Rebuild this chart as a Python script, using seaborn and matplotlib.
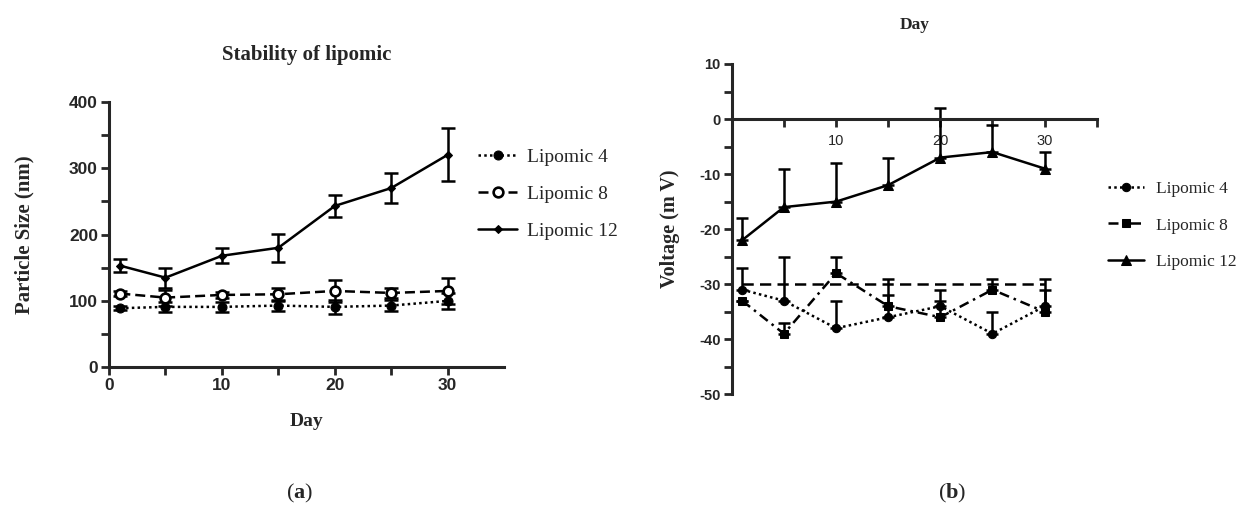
import numpy as np
import pandas as pd
import seaborn as sns
import matplotlib.pyplot as plt
from matplotlib.ticker import MultipleLocator

# data
days = [1, 5, 10, 15, 20, 25, 30]

# (a) particle size, nm
size_l4 = [89, 91, 91, 93, 91, 93, 100]
size_l4_err = [3, 8, 8, 8, 10, 8, 12]
size_l8 = [111, 105, 109, 110, 115, 112, 115]
size_l8_err = [4, 12, 5, 10, 16, 7, 19]
size_l12 = [153, 135, 168, 180, 243, 270, 320]
size_l12_err = [10, 15, 11, 21, 17, 22, 40]

# (b) zeta potential, mV (upper error bars only)
zeta_l4 = [-31, -33, -38, -36, -34, -39, -34]
zeta_l4_err = [4, 8, 5, 4, 3, 4, 3]
zeta_l8 = [-33, -39, -28, -34, -36, -31, -35]
zeta_l8_err = [0, 2, 3, 5, 3, 2, 6]
zeta_l12 = [-22, -16, -15, -12, -7, -6, -9]
zeta_l12_err = [4, 7, 7, 5, 9, 5, 3]
zeta_ref = -30

labels = ['Lipomic 4', 'Lipomic 8', 'Lipomic 12']

sns.set_style('ticks')
plt.rcParams['font.family'] = ['Liberation Sans', 'DejaVu Sans']
plt.rcParams['axes.unicode_minus'] = False
plt.rcParams['mathtext.fontset'] = 'custom'
plt.rcParams['mathtext.bf'] = 'Liberation Serif:bold'
plt.rcParams['mathtext.rm'] = 'Liberation Serif'

serif = 'Liberation Serif'
LW = 1.8

fig = plt.figure(figsize=(12.49, 5.14), dpi=100)
ax1 = fig.add_axes([0.0873, 0.2854, 0.3163, 0.5167])
ax2 = fig.add_axes([0.5859, 0.2329, 0.2922, 0.6426])

# ---- panel (a)
styles_a = [
    dict(marker='o', ms=6.5, mfc='k', ls=(0, (1, 1.3))),
    dict(marker='o', ms=7, mfc='white', mew=1.9, ls=(0, (4, 2))),
    dict(marker='D', ms=4.5, mfc='k', ls='-'),
]
for vals, err, lab, st in zip([size_l4, size_l8, size_l12],
                              [size_l4_err, size_l8_err, size_l12_err], labels, styles_a):
    ax1.errorbar(days, vals, yerr=err, fmt='none', ecolor='k', elinewidth=LW,
                 capsize=5, capthick=LW, zorder=2)
    sns.lineplot(x=days, y=vals, ax=ax1, color='k', lw=LW, mec='k', label=lab,
                 zorder=3, **st)

ax1.set_xlim(0, 35)
ax1.set_ylim(0, 400)
ax1.set_xticks([0, 5, 10, 15, 20, 25, 30])
ax1.set_xticklabels(['0', '', '10', '', '20', '', '30'])
ax1.yaxis.set_major_locator(MultipleLocator(100))
ax1.yaxis.set_minor_locator(MultipleLocator(50))
ax1.tick_params(which='both', width=2, length=6, labelsize=12.5, pad=2)
for t in ax1.get_xticklabels() + ax1.get_yticklabels():
    t.set_fontweight('bold')
sns.despine(ax=ax1)
for s in ['left', 'bottom']:
    ax1.spines[s].set_linewidth(2.2)
ax1.set_xlabel('Day', family=serif, fontweight='bold', fontsize=14, labelpad=14)
ax1.set_ylabel('Particle Size (nm)', family=serif, fontweight='bold', fontsize=15, labelpad=25)
ax1.set_title('Stability of lipomic', family=serif, fontweight='bold', fontsize=15, pad=30)
h, l = ax1.get_legend_handles_labels()
ax1.legend(h, l, loc='upper left', bbox_to_anchor=(0.383, 0.712), bbox_transform=fig.transFigure,
           frameon=False, prop={'family': serif, 'size': 14}, handlelength=2.0,
           handletextpad=0.5, labelspacing=1.0, borderpad=0, borderaxespad=0)

# ---- panel (b)
styles_b = [
    dict(marker='o', ms=6, ls=(0, (1, 1.3))),
    dict(marker='s', ms=5.5, ls=(0, (4, 2, 1, 2))),
    dict(marker='^', ms=6.5, ls='-'),
]
for vals, err, lab, st in zip([zeta_l4, zeta_l8, zeta_l12],
                              [zeta_l4_err, zeta_l8_err, zeta_l12_err], labels, styles_b):
    ax2.errorbar(days, vals, yerr=[np.zeros(len(err)), err], fmt='none', ecolor='k',
                 elinewidth=LW, capsize=4.5, capthick=LW, zorder=2)
    sns.lineplot(x=days, y=vals, ax=ax2, color='k', lw=LW, mfc='k', mec='k', label=lab,
                 zorder=3, **st)
ax2.hlines(zeta_ref, days[0], days[-1], colors='k', lw=LW, linestyles=(0, (4.5, 2.5)), zorder=2)

ax2.set_xlim(0, 35)
ax2.set_ylim(-50, 10)
ax2.set_xticks([5, 10, 15, 20, 25, 30, 35])
ax2.set_xticklabels(['', '10', '', '20', '', '30', ''])
ax2.yaxis.set_major_locator(MultipleLocator(10))
ax2.yaxis.set_minor_locator(MultipleLocator(5))
ax2.tick_params(which='both', width=2, length=6, labelsize=10.5, pad=2)
ax2.tick_params(axis='x', pad=5)
for t in ax2.get_xticklabels() + ax2.get_yticklabels():
    t.set_fontweight('bold')
sns.despine(ax=ax2)
ax2.spines['bottom'].set_position(('data', 0))
for s in ['left', 'bottom']:
    ax2.spines[s].set_linewidth(2.2)
ax2.set_xlabel('')
ax2.set_title('Day', family=serif, fontweight='bold', fontsize=12.5, pad=25)
ax2.set_ylabel('Voltage (m V)', family=serif, fontweight='bold', fontsize=14.5, labelpad=14)
h, l = ax2.get_legend_handles_labels()
ax2.legend(h, l, loc='upper left', bbox_to_anchor=(0.887, 0.648), bbox_transform=fig.transFigure,
           frameon=False, prop={'family': serif, 'size': 12.5}, handlelength=2.1,
           handletextpad=0.7, labelspacing=1.17, borderpad=0, borderaxespad=0)

fig.text(0.24, 0.04, r'($\mathbf{a}$)', family=serif, fontsize=16, ha='center', va='center')
fig.text(0.762, 0.04, r'($\mathbf{b}$)', family=serif, fontsize=16, ha='center', va='center')

fig.savefig('out.png', dpi=100)
